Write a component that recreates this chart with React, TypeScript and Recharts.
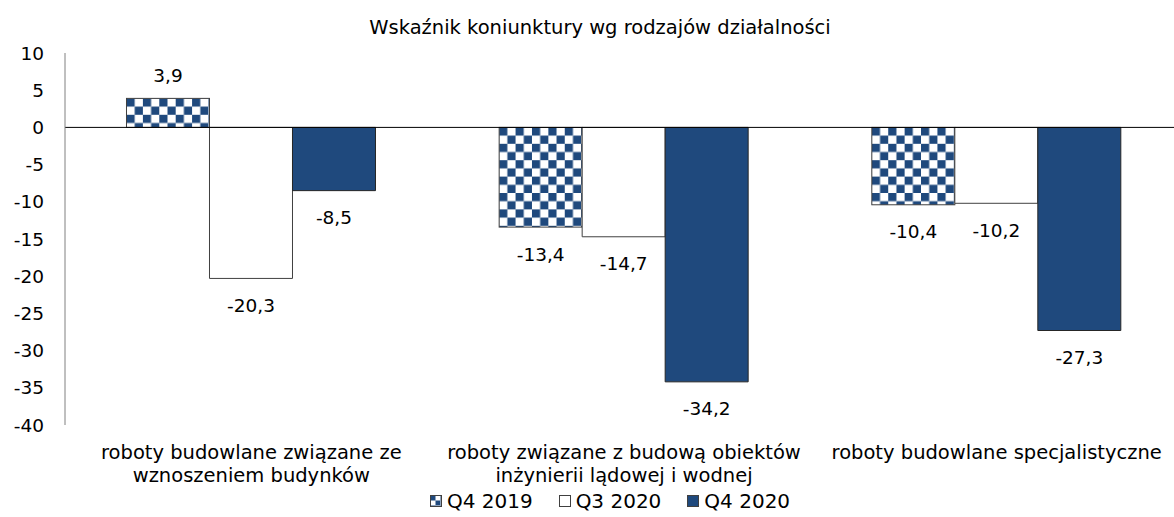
import React from 'react';
import { BarChart, Bar, XAxis, YAxis, ReferenceLine, Legend, LabelList } from 'recharts';

const categories = [
  'roboty budowlane związane ze|wznoszeniem budynków',
  'roboty związane z budową obiektów|inżynierii lądowej i wodnej',
  'roboty budowlane specjalistyczne',
];
const q42019 = [3.9, -13.4, -10.4];
const q32020 = [-20.3, -14.7, -10.2];
const q42020 = [-8.5, -34.2, -27.3];
const yTicks = [10, 5, 0, -5, -10, -15, -20, -25, -30, -35, -40];
const seriesNames = ['Q4 2019', 'Q3 2020', 'Q4 2020'];

const data = categories.map((c, i) => ({ name: c, a: q42019[i], b: q32020[i], c: q42020[i] }));

const NAVY = '#1F497D';
const FONT = '"DejaVu Sans", sans-serif';

const fmt = (v: number) => String(v).replace('.', ',');

const ValueLabel = (props: any) => {
  const { x, y, width, height, value } = props;
  const top = Math.min(y, y + height);
  const bottom = Math.max(y, y + height);
  const cx = x + width / 2;
  const ty = value >= 0 ? top - 23 : bottom + 27;
  return (
    <text x={cx} y={ty} textAnchor="middle" dominantBaseline="central" fontSize={18.5} fontFamily={FONT} fill="#000">
      {fmt(value)}
    </text>
  );
};

const CheckerShape = (props: any) => {
  const { x, y, width, height, index } = props;
  const top = Math.min(y, y + height);
  const h = Math.abs(height);
  const id = `chk-${index}`;
  const c = 8.2;
  return (
    <g>
      <defs>
        <pattern id={id} x={x} y={top} width={2 * c} height={2 * c} patternUnits="userSpaceOnUse">
          <rect x={0} y={0} width={2 * c} height={2 * c} fill="#ffffff" />
          <rect x={0} y={0} width={c} height={c} fill={NAVY} />
          <rect x={c} y={c} width={c} height={c} fill={NAVY} />
        </pattern>
      </defs>
      <rect x={x} y={top} width={width} height={h} fill={`url(#${id})`} stroke="#404040" strokeWidth={1} />
    </g>
  );
};

const CatTick = (props: any) => {
  const { x, y, payload } = props;
  const lines = String(payload.value).split('|');
  return (
    <g transform={`translate(${x},${y})`}>
      {lines.map((l, i) => (
        <text key={i} x={0} y={i * 23} textAnchor="middle" dominantBaseline="central" fontSize={19.5} fontFamily={FONT} fill="#000">
          {l}
        </text>
      ))}
    </g>
  );
};

const LegendContent = () => {
  return (
    <div style={{ display: 'flex', justifyContent: 'center', fontFamily: FONT, fontSize: 20, color: '#000', width: 1220, paddingTop: 4 }}>
      {seriesNames.map((n, i) => (
        <div key={n} style={{ display: 'flex', alignItems: 'center', marginRight: i < 2 ? 26 : 0 }}>
          <svg width={12} height={12} style={{ marginRight: 5 }}>
            <defs>
              <pattern id="lchk" x={0.5} y={0.5} width={10} height={10} patternUnits="userSpaceOnUse">
                <rect x={0} y={0} width={10} height={10} fill="#fff" />
                <rect x={0} y={0} width={5} height={5} fill={NAVY} />
                <rect x={5} y={5} width={5} height={5} fill={NAVY} />
              </pattern>
            </defs>
            <rect x={0.5} y={0.5} width={11} height={11} fill={i === 0 ? 'url(#lchk)' : i === 1 ? '#fff' : NAVY} stroke="#404040" strokeWidth={1} />
          </svg>
          <span>{n}</span>
        </div>
      ))}
    </div>
  );
};

export default function App() {
  return (
    <div style={{ position: 'absolute', left: 0, top: 0, width: 1174, height: 517, background: '#fff', overflow: 'hidden' }}>
      <BarChart
        width={1183}
        height={517}
        data={data}
        margin={{ top: 53, right: 0, left: 0, bottom: 0 }}
        barCategoryGap="16.5%"
        barGap={0}
      >
        <text x={600} y={27} textAnchor="middle" dominantBaseline="central" fontSize={19.5} fontFamily={FONT} fill="#000">
          Wskaźnik koniunktury wg rodzajów działalności
        </text>
        <XAxis dataKey="name" axisLine={false} tickLine={false} height={60} tick={<CatTick />} interval={0} tickMargin={21} />
        <YAxis
          domain={[-40, 10]}
          ticks={yTicks}
          width={65}
          axisLine={{ stroke: '#808080' }}
          tickLine={false}
          tickMargin={15}
          tick={{ fontSize: 18.5, fontFamily: FONT, fill: '#000' }}
          interval={0}
        />
        <Legend verticalAlign="bottom" height={32} content={<LegendContent />} />
        <Bar dataKey="a" name={seriesNames[0]} fill={NAVY} shape={<CheckerShape />} isAnimationActive={false}>
          <LabelList dataKey="a" content={<ValueLabel />} />
        </Bar>
        <Bar dataKey="b" name={seriesNames[1]} fill="#ffffff" stroke="#404040" strokeWidth={1} isAnimationActive={false}>
          <LabelList dataKey="b" content={<ValueLabel />} />
        </Bar>
        <Bar dataKey="c" name={seriesNames[2]} fill={NAVY} stroke="#262626" strokeWidth={1} isAnimationActive={false}>
          <LabelList dataKey="c" content={<ValueLabel />} />
        </Bar>
        <ReferenceLine y={0} stroke="#000" strokeWidth={1} />
      </BarChart>
    </div>
  );
}
